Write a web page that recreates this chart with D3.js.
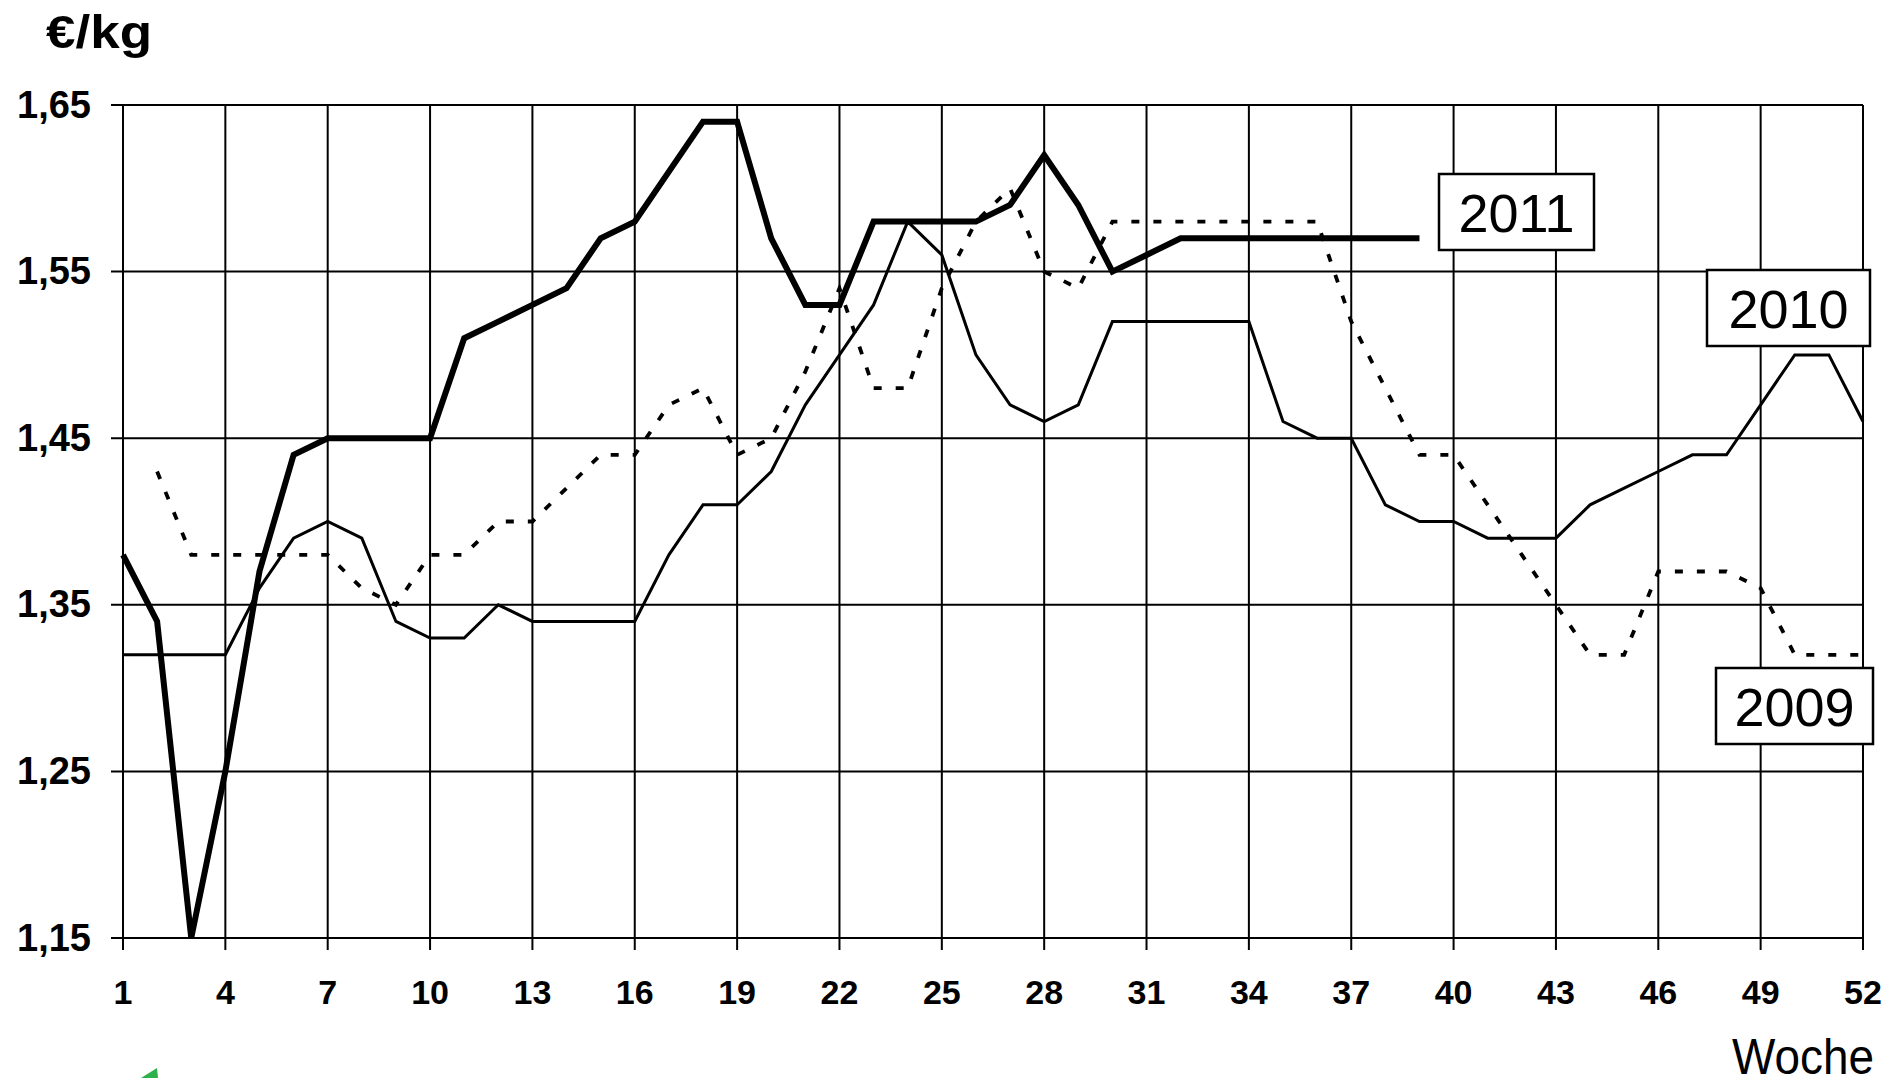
<!DOCTYPE html>
<html lang="de">
<head>
<meta charset="utf-8">
<title>€/kg je Woche</title>
<script src="https://cdn.jsdelivr.net/npm/d3@7"></script>
<style>
  html, body { margin: 0; padding: 0; background: #fff; }
  svg { display: block; }
  text { font-family: "Liberation Sans", Arial, Helvetica, sans-serif; fill: #000; }
</style>
</head>
<body>
<svg id="chart" width="1885" height="1078"></svg>
<script>
// Wochen 1..52
const weeks = d3.range(1, 53);

// Preise in €/kg je Kalenderwoche (null = kein Wert)
const price2009 = [null, 1.43, 1.38, 1.38, 1.38, 1.38, 1.38, 1.36, 1.35, 1.38,
  1.38, 1.40, 1.40, 1.42, 1.44, 1.44, 1.47, 1.48, 1.44, 1.45,
  1.49, 1.54, 1.48, 1.48, 1.54, 1.58, 1.60, 1.55, 1.54, 1.58,
  1.58, 1.58, 1.58, 1.58, 1.58, 1.58, 1.52, 1.48, 1.44, 1.44,
  1.41, 1.38, 1.35, 1.32, 1.32, 1.37, 1.37, 1.37, 1.36, 1.32,
  1.32, 1.32];

const price2010 = [1.32, 1.32, 1.32, 1.32, 1.36, 1.39, 1.40, 1.39, 1.34, 1.33,
  1.33, 1.35, 1.34, 1.34, 1.34, 1.34, 1.38, 1.41, 1.41, 1.43,
  1.47, 1.50, 1.53, 1.58, 1.56, 1.50, 1.47, 1.46, 1.47, 1.52,
  1.52, 1.52, 1.52, 1.52, 1.46, 1.45, 1.45, 1.41, 1.40, 1.40,
  1.39, 1.39, 1.39, 1.41, 1.42, 1.43, 1.44, 1.44, 1.47, 1.50,
  1.50, 1.46];

const price2011 = [1.38, 1.34, 1.15, 1.25, 1.37, 1.44, 1.45, 1.45, 1.45, 1.45,
  1.51, 1.52, 1.53, 1.54, 1.57, 1.58, 1.61, 1.64, 1.64, 1.57,
  1.53, 1.53, 1.58, 1.58, 1.58, 1.58, 1.59, 1.62, 1.59, 1.55,
  1.56, 1.57, 1.57, 1.57, 1.57, 1.57, 1.57, 1.57, 1.57];

// Achsenbeschriftungen
const xTicks = d3.range(1, 53, 3);          // 1, 4, 7 … 52
const yTicks = [1.15, 1.25, 1.35, 1.45, 1.55, 1.65];
const unitLabel = "€/kg";
const weekLabel = "Woche";

// Jahres-Etiketten
const yearLabels = ["2011", "2010", "2009"];

const svg = d3.select("#chart");

const x = d3.scaleLinear().domain([1, 52]).range([123, 1863]);
const y = d3.scaleLinear().domain([1.15, 1.65]).range([938, 105]);
const fmt = v => d3.format(".2f")(v).replace(".", ",");

// Gitter: horizontale Linien mit Tick links der Achse
svg.append("g")
  .selectAll("line")
  .data(yTicks)
  .join("line")
  .attr("x1", x(1) - 12).attr("x2", x(52))
  .attr("y1", d => y(d)).attr("y2", d => y(d))
  .attr("stroke", "#000").attr("stroke-width", 2);

// Gitter: vertikale Linien mit Tick unter der Achse
svg.append("g")
  .selectAll("line")
  .data(xTicks)
  .join("line")
  .attr("x1", d => x(d)).attr("x2", d => x(d))
  .attr("y1", y(1.65)).attr("y2", y(1.15) + 12)
  .attr("stroke", "#000").attr("stroke-width", 2);

// Y-Achsenbeschriftung
svg.append("g")
  .selectAll("text")
  .data(yTicks)
  .join("text")
  .attr("x", 91)
  .attr("y", d => y(d) + 12.5)
  .attr("text-anchor", "end")
  .attr("font-size", 38)
  .attr("font-weight", "bold")
  .text(fmt);

// X-Achsenbeschriftung
svg.append("g")
  .selectAll("text")
  .data(xTicks)
  .join("text")
  .attr("x", d => x(d))
  .attr("y", 1004)
  .attr("text-anchor", "middle")
  .attr("font-size", 34)
  .attr("font-weight", "bold")
  .text(d => d);

svg.append("text")
  .attr("x", 46).attr("y", 48)
  .attr("font-size", 46)
  .attr("font-weight", "bold")
  .attr("textLength", 106)
  .attr("lengthAdjust", "spacingAndGlyphs")
  .text(unitLabel);

svg.append("text")
  .attr("x", 1732).attr("y", 1074)
  .attr("font-size", 50)
  .attr("textLength", 142)
  .attr("lengthAdjust", "spacingAndGlyphs")
  .text(weekLabel);

// Linien je Jahr
const line = d3.line()
  .defined(d => d.v != null)
  .x(d => x(d.w))
  .y(d => y(d.v));

const toPoints = arr => arr.map((v, i) => ({ w: weeks[i], v }));

svg.append("path")
  .datum(toPoints(price2009))
  .attr("d", line)
  .attr("fill", "none")
  .attr("stroke", "#000")
  .attr("stroke-width", 3.8)
  .attr("stroke-dasharray", "8,14");

svg.append("path")
  .datum(toPoints(price2010))
  .attr("d", line)
  .attr("fill", "none")
  .attr("stroke", "#000")
  .attr("stroke-width", 3)
  .attr("stroke-linejoin", "miter");

svg.append("path")
  .datum(toPoints(price2011))
  .attr("d", line)
  .attr("fill", "none")
  .attr("stroke", "#000")
  .attr("stroke-width", 6)
  .attr("stroke-linejoin", "miter");

// Jahres-Etiketten als umrandete Kästen
const boxes = [
  { label: yearLabels[0], x0: 1439, y0: 174, w: 155, h: 76 },
  { label: yearLabels[1], x0: 1707, y0: 270, w: 163, h: 76 },
  { label: yearLabels[2], x0: 1716, y0: 668, w: 157, h: 76 }
];

const boxG = svg.append("g")
  .selectAll("g")
  .data(boxes)
  .join("g");

boxG.append("rect")
  .attr("x", d => d.x0).attr("y", d => d.y0)
  .attr("width", d => d.w).attr("height", d => d.h)
  .attr("fill", "#fff")
  .attr("stroke", "#000")
  .attr("stroke-width", 2.5);

boxG.append("text")
  .attr("x", d => d.x0 + d.w / 2)
  .attr("y", d => d.y0 + 58)
  .attr("text-anchor", "middle")
  .attr("font-size", 54)
  .text(d => d.label);

// Logo-Ecke unten links
svg.append("polygon")
  .attr("points", "141,1078 157,1068 158,1078")
  .attr("fill", "#2eb04a");
</script>
</body>
</html>
